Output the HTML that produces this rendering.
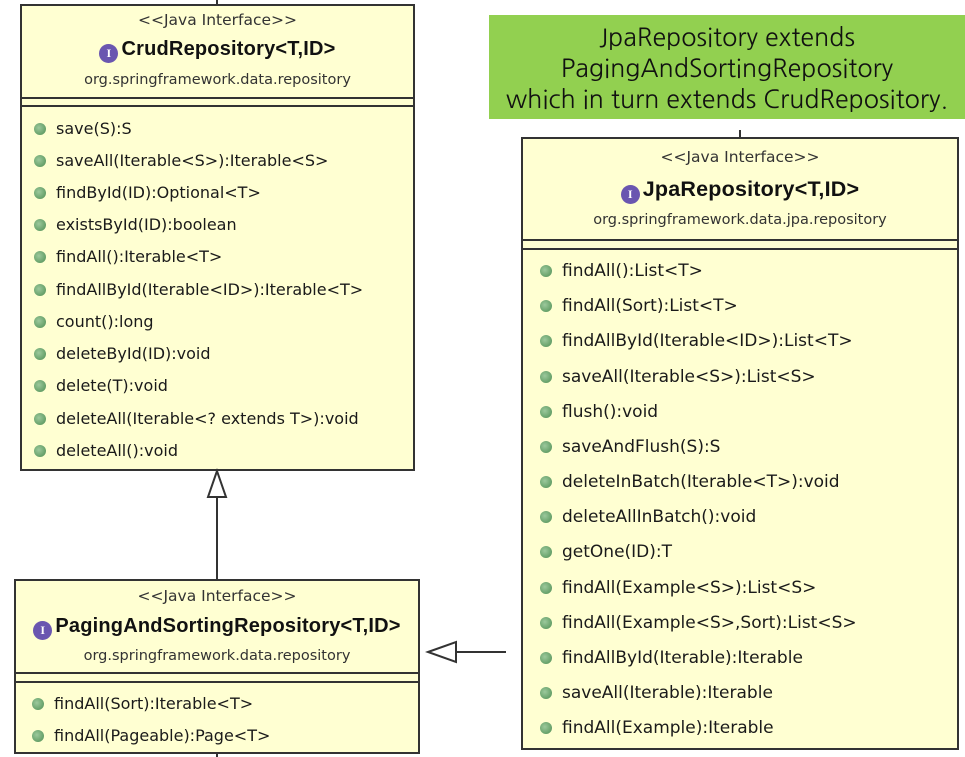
<!DOCTYPE html>
<html><head><meta charset="utf-8"><style>
body{margin:0;width:965px;height:757px;background:#fff;position:relative;overflow:hidden;font-family:"DejaVu Sans","Liberation Sans",sans-serif;color:#1a1a1a}
.box{position:absolute;background:#ffffd2;border:2px solid #333;box-sizing:border-box}
.c{position:absolute;left:0;right:0;text-align:center;white-space:nowrap}
.st{font-size:15.5px;color:#333}
.t{font-size:20px;font-weight:bold;color:#111;font-family:"Liberation Sans",sans-serif;letter-spacing:0.2px}
.p{font-size:14.5px;color:#333}
.ic{display:inline-block;width:19px;height:19px;border-radius:50%;background:#6a56b0;color:#fff;font:bold 12px "Liberation Serif",serif;line-height:19px;text-align:center;vertical-align:-2px;margin-right:3px}
.sep{position:absolute;left:0;right:0;border-top:2px solid #333}
.m{position:absolute;white-space:nowrap}
.m:before{content:"";position:absolute;left:-22px;top:50%;margin-top:-6px;width:12px;height:12px;border-radius:50%;background:radial-gradient(circle at 40% 40%,#9cc99c,#4e8e52)}
.ln{position:absolute;background:#333}
</style></head><body>

<div class="ln" style="left:216px;top:0;width:2px;height:6px"></div>
<div class="ln" style="left:216px;top:750px;width:2px;height:7px"></div>
<div class="ln" style="left:739px;top:130px;width:2px;height:8px"></div>

<!-- Crud -->
<div class="box" style="left:20px;top:4px;width:395px;height:467px">
 <div class="c st" style="top:5px">&lt;&lt;Java Interface&gt;&gt;</div>
 <div class="c t" style="top:32px"><span class="ic">I</span>CrudRepository&lt;T,ID&gt;</div>
 <div class="c p" style="top:66px">org.springframework.data.repository</div>
 <div class="sep" style="top:91px"></div>
 <div class="sep" style="top:99px"></div>
 <div style="position:absolute;left:34px;top:0;font-size:16px">
  <div class="m" style="top:113px">save(S):S</div>
  <div class="m" style="top:145px">saveAll(Iterable&lt;S&gt;):Iterable&lt;S&gt;</div>
  <div class="m" style="top:177px">findById(ID):Optional&lt;T&gt;</div>
  <div class="m" style="top:209px">existsById(ID):boolean</div>
  <div class="m" style="top:241px">findAll():Iterable&lt;T&gt;</div>
  <div class="m" style="top:274px">findAllById(Iterable&lt;ID&gt;):Iterable&lt;T&gt;</div>
  <div class="m" style="top:306px">count():long</div>
  <div class="m" style="top:338px">deleteById(ID):void</div>
  <div class="m" style="top:370px">delete(T):void</div>
  <div class="m" style="top:403px">deleteAll(Iterable&lt;? extends T&gt;):void</div>
  <div class="m" style="top:435px">deleteAll():void</div>
 </div>
</div>

<!-- Paging -->
<div class="box" style="left:14px;top:579px;width:406px;height:175px">
 <div class="c st" style="top:6px">&lt;&lt;Java Interface&gt;&gt;</div>
 <div class="c t" style="top:34px"><span class="ic">I</span>PagingAndSortingRepository&lt;T,ID&gt;</div>
 <div class="c p" style="top:67px">org.springframework.data.repository</div>
 <div class="sep" style="top:91px"></div>
 <div class="sep" style="top:100px"></div>
 <div style="position:absolute;left:38px;top:0;font-size:16px">
  <div class="m" style="top:113px">findAll(Sort):Iterable&lt;T&gt;</div>
  <div class="m" style="top:145px">findAll(Pageable):Page&lt;T&gt;</div>
 </div>
</div>

<!-- Jpa -->
<div class="box" style="left:521px;top:137px;width:438px;height:613px">
 <div class="c st" style="top:9px">&lt;&lt;Java Interface&gt;&gt;</div>
 <div class="c t" style="top:38px;font-size:21.5px"><span class="ic">I</span>JpaRepository&lt;T,ID&gt;</div>
 <div class="c p" style="top:73px">org.springframework.data.jpa.repository</div>
 <div class="sep" style="top:100px"></div>
 <div class="sep" style="top:109px"></div>
 <div style="position:absolute;left:39px;top:0;font-size:17px">
  <div class="m" style="top:122px">findAll():List&lt;T&gt;</div>
  <div class="m" style="top:157px">findAll(Sort):List&lt;T&gt;</div>
  <div class="m" style="top:192px">findAllById(Iterable&lt;ID&gt;):List&lt;T&gt;</div>
  <div class="m" style="top:228px">saveAll(Iterable&lt;S&gt;):List&lt;S&gt;</div>
  <div class="m" style="top:263px">flush():void</div>
  <div class="m" style="top:298px">saveAndFlush(S):S</div>
  <div class="m" style="top:333px">deleteInBatch(Iterable&lt;T&gt;):void</div>
  <div class="m" style="top:368px">deleteAllInBatch():void</div>
  <div class="m" style="top:403px">getOne(ID):T</div>
  <div class="m" style="top:439px">findAll(Example&lt;S&gt;):List&lt;S&gt;</div>
  <div class="m" style="top:474px">findAll(Example&lt;S&gt;,Sort):List&lt;S&gt;</div>
  <div class="m" style="top:509px">findAllById(Iterable):Iterable</div>
  <div class="m" style="top:544px">saveAll(Iterable):Iterable</div>
  <div class="m" style="top:579px">findAll(Example):Iterable</div>
 </div>
</div>

<!-- Note -->
<div style="position:absolute;left:489px;top:15px;width:476px;height:104px;background:#92d050;text-align:center;font-size:25px;line-height:31px;color:#111;padding-top:7px;box-sizing:border-box;font-family:'NanumGothic','Liberation Sans',sans-serif">
 JpaRepository extends<br>PagingAndSortingRepository<br>which in turn extends CrudRepository.
</div>

<svg width="965" height="757" style="position:absolute;left:0;top:0">
 <line x1="217" y1="579" x2="217" y2="497" stroke="#333" stroke-width="2"/>
 <polygon points="217,471 208,497 226,497" fill="#fff" stroke="#333" stroke-width="2"/>
 <line x1="506" y1="652" x2="456" y2="652" stroke="#333" stroke-width="2"/>
 <polygon points="428,652 456,642 456,662" fill="#fff" stroke="#333" stroke-width="2"/>
</svg>
</body></html>
